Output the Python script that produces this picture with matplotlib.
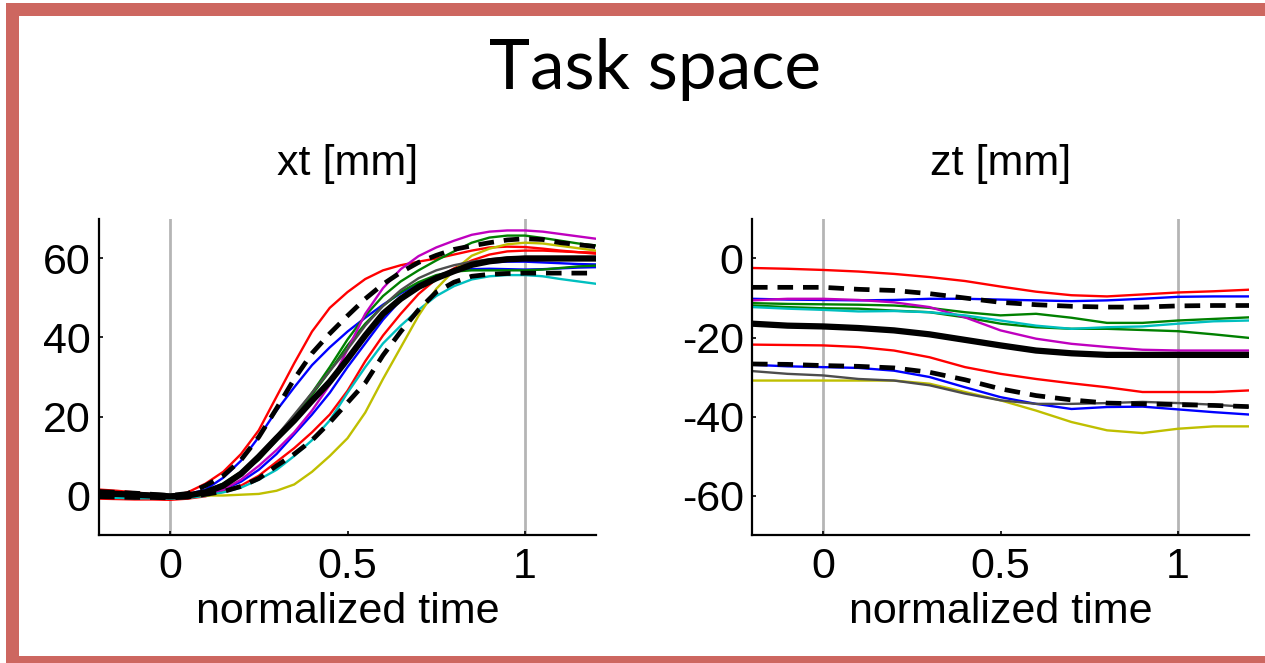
import numpy as np
import matplotlib.pyplot as plt
from matplotlib.patches import Rectangle

plt.rcParams['font.family'] = ['Liberation Sans', 'DejaVu Sans']
plt.rcParams['axes.unicode_minus'] = False

# normalized time samples
t_x = [-0.2, -0.15, -0.1, -0.05, 0.0, 0.05, 0.1, 0.15, 0.2, 0.25, 0.3, 0.35, 0.4, 0.45,
       0.5, 0.55, 0.6, 0.65, 0.7, 0.75, 0.8, 0.85, 0.9, 0.95, 1.0, 1.05, 1.1, 1.15, 1.2]
t_z = [-0.2, -0.1, 0.0, 0.1, 0.2, 0.3, 0.4, 0.5, 0.6, 0.7, 0.8, 0.9, 1.0, 1.1, 1.2]

# xt [mm] trials
xt_red1 = [1.5, 1.2, 0.8, 0.3, -0.2, 0.8, 3.0, 6.0, 10.5, 16.5, 25, 33.5, 41.5, 47.5, 51.5, 54.8, 57, 58.3, 59.2, 60, 61, 62, 62.8, 63, 62.9, 62.5, 62, 61.6, 61.2]
xt_red2 = [-0.8, -0.9, -1.0, -1.0, -1.1, -0.8, -0.2, 1, 2.5, 5, 8.5, 12, 16, 20.5, 26.5, 34, 40.5, 46, 51, 54.8, 57.5, 59.5, 61, 61.8, 62, 62, 61.8, 61.6, 61.5]
xt_blue1 = [0.6, 0.5, 0.3, 0.1, -0.1, 0.3, 1.5, 4.5, 8.8, 14.8, 21.5, 27.4, 33, 37.5, 41.5, 45, 48.3, 51.2, 53.6, 55.5, 57, 58.2, 59, 59.2, 59.2, 59, 58.8, 58.6, 58.5]
xt_blue2 = [-0.2, -0.3, -0.4, -0.4, -0.5, -0.3, 0.3, 1.5, 3.5, 6.5, 10.5, 15.5, 20.5, 26, 32.5, 38.5, 44.5, 49.5, 53, 55.5, 56.8, 57.3, 57.4, 57.3, 57.2, 57.3, 57.5, 57.7, 57.8]
xt_green1 = [0.8, 0.6, 0.4, 0.1, -0.2, 0.2, 1.2, 3, 6, 9.5, 14.5, 20, 26, 32.5, 39.5, 45.5, 50.5, 54.2, 57, 59.5, 61.8, 64, 65.3, 65.8, 65.8, 65.2, 64.5, 63.8, 63.3]
xt_green2 = [0.3, 0.2, 0.0, -0.2, -0.3, 0.0, 1.0, 2.5, 5.5, 9, 14, 19.5, 25.5, 31.5, 38, 43.5, 48, 51.5, 54, 55.8, 56.7, 57, 57, 57, 57, 57.2, 57.6, 58, 58.2]
xt_magenta = [0.0, 0.0, -0.1, -0.2, -0.3, -0.1, 0.5, 1.5, 4, 7.5, 11.5, 16, 21.5, 28, 37, 46, 52.5, 57.3, 60.6, 62.8, 64.5, 66, 66.8, 67.1, 67.1, 66.8, 66.2, 65.6, 65]
xt_cyan = [-0.5, -0.6, -0.7, -0.7, -0.8, -0.6, -0.1, 0.8, 2, 4, 6.5, 10, 14, 19, 26, 32.5, 38.5, 43, 47, 50.5, 53, 54.7, 55.5, 55.8, 55.8, 55.5, 54.8, 54.2, 53.6]
xt_yellow = [0.2, 0.2, 0.1, 0.0, -0.1, 0.0, 0.0, 0.0, 0.2, 0.4, 1.2, 2.8, 6, 10, 14.5, 21, 29.5, 37.5, 45.5, 52.3, 57, 60.7, 62.5, 63.6, 64, 63.8, 63.2, 62.6, 62]
xt_gray = [0.2, 0.1, 0.0, -0.1, -0.2, 0.1, 1.0, 2.5, 5.5, 10, 15, 20.5, 26, 31.5, 37, 43, 48, 52, 55, 57, 58.3, 59.2, 59.8, 60.2, 60.4, 60.4, 60.4, 60.4, 60.4]
xt_mean = [0.5, 0.4, 0.2, 0.0, -0.2, 0.0, 0.8, 2.5, 5.5, 9.8, 14.5, 19, 24, 28.8, 34.5, 40.5, 46, 49.8, 52.8, 55, 56.8, 58.4, 59.3, 59.8, 60, 60, 60, 60, 60]
xt_sd_hi = [1.0, 0.8, 0.6, 0.3, 0.0, 0.5, 2.5, 5, 9, 14.8, 22, 29.5, 36, 41, 45.5, 49.8, 53.5, 56.5, 59, 60.8, 62.3, 63.2, 64, 64.7, 65, 64.8, 64, 63.5, 63]
xt_sd_lo = [-0.3, -0.4, -0.5, -0.5, -0.6, -0.4, 0.3, 1, 2.3, 4.3, 7.5, 10.5, 14, 18.5, 23.5, 28.5, 35.5, 41.5, 47, 51.5, 54, 55.5, 56, 56.2, 56.3, 56.3, 56.3, 56.3, 56.3]

# zt [mm] trials
zt_red1 = [-2.4, -2.6, -2.9, -3.3, -3.9, -4.7, -5.7, -7.1, -8.4, -9.3, -9.6, -9.1, -8.6, -8.3, -7.9]
zt_red2 = [-21.8, -21.9, -22.0, -22.4, -23.3, -25.0, -27.5, -29.2, -30.5, -31.6, -32.6, -33.8, -33.8, -33.8, -33.4]
zt_blue1 = [-10.2, -10.4, -10.5, -10.6, -10.5, -10.2, -10.2, -10.4, -10.6, -10.8, -10.6, -10.2, -9.7, -9.6, -9.6]
zt_blue2 = [-26.9, -27.3, -27.5, -27.7, -28.4, -30.0, -32.6, -35.1, -36.8, -38.1, -37.6, -37.5, -38.2, -38.9, -39.5]
zt_green1 = [-11.3, -11.5, -11.6, -11.7, -11.9, -12.5, -13.6, -14.4, -14.0, -15.0, -16.3, -16.3, -15.7, -15.3, -14.9]
zt_green2 = [-11.9, -12.3, -12.6, -12.7, -13.2, -13.6, -14.9, -16.5, -17.4, -17.8, -17.8, -18.1, -18.4, -19.2, -20.1]
zt_magenta = [-10.6, -10.2, -10.2, -10.5, -11.1, -12.3, -14.9, -18.2, -20.3, -21.6, -22.4, -23.1, -23.3, -23.3, -23.3]
zt_cyan = [-12.3, -12.7, -13.0, -13.4, -13.3, -13.6, -14.4, -15.7, -17.0, -17.8, -17.4, -17.2, -16.5, -15.9, -15.7]
zt_yellow = [-30.9, -30.9, -30.9, -30.9, -30.9, -31.7, -33.8, -35.9, -38.5, -41.4, -43.5, -44.2, -43.1, -42.5, -42.5]
zt_gray = [-28.5, -29.2, -29.6, -30.5, -30.9, -32.1, -34.2, -35.9, -36.8, -36.8, -36.6, -36.3, -36.6, -37.0, -37.6]
zt_mean = [-16.5, -17.0, -17.2, -17.6, -18.2, -19.2, -20.6, -22.0, -23.3, -24.0, -24.4, -24.4, -24.4, -24.4, -24.4]
zt_sd_hi = [-7.3, -7.3, -7.3, -7.8, -8.1, -8.9, -10.0, -11.1, -11.7, -12.1, -12.3, -12.3, -12.0, -11.9, -11.9]
zt_sd_lo = [-26.7, -26.8, -27.1, -27.3, -27.7, -28.8, -30.7, -33.0, -34.7, -35.8, -36.6, -36.8, -37.0, -37.2, -37.5]

RED, BLUE, GREEN = (1, 0, 0), (0, 0, 1), (0, 0.5, 0)
CYAN, MAGENTA, YELLOW, GRAY = (0, 0.75, 0.75), (0.75, 0, 0.75), (0.75, 0.75, 0), (0.3, 0.3, 0.3)

W, H = 1265, 663
fig = plt.figure(figsize=(W / 100, H / 100), dpi=100)

# slide frame (left, top, bottom bands; right side is cut off)
FRAME = '#cd6760'
for x0, y0, x1, y1 in [(6, 3, 19, 663), (6, 3, 1265, 16), (6, 656, 1265, 663)]:
    fig.patches.append(Rectangle((x0 / W, 1 - y1 / H), (x1 - x0) / W, (y1 - y0) / H,
                                 transform=fig.transFigure, color=FRAME, lw=0))
# white strip at the far right (the slide continues past the crop)
fig.patches.append(Rectangle((1252 / W, 1 - 650 / H), 13 / W, 630 / H,
                             transform=fig.transFigure, color='white', lw=0, zorder=10))

fig.text(0.518, 0.895, 'Task space', ha='center', va='center', fontsize=50,
         family=['Lato', 'DejaVu Sans'])

panels = [
    (t_x, [xt_red1, xt_red2, xt_blue1, xt_blue2, xt_green1, xt_green2, xt_magenta, xt_cyan, xt_yellow, xt_gray],
     xt_mean, xt_sd_hi, xt_sd_lo, (-10, 70), [0, 20, 40, 60], 'xt [mm]', 99),
    (t_z, [zt_red1, zt_red2, zt_blue1, zt_blue2, zt_green1, zt_green2, zt_magenta, zt_cyan, zt_yellow, zt_gray],
     zt_mean, zt_sd_hi, zt_sd_lo, (-70, 10), [-60, -40, -20, 0], 'zt [mm]', 752),
]
colors = [RED, RED, BLUE, BLUE, GREEN, GREEN, MAGENTA, CYAN, YELLOW, GRAY]

for t, trials, mean, hi, lo, ylim, yticks, title, x0 in panels:
    ax = fig.add_axes([x0 / W, 1 - 535 / H, 497 / W, 316 / H])
    ax.axvline(0, color='#b5b5b5', lw=2, zorder=1)
    ax.axvline(1, color='#b5b5b5', lw=2, zorder=1)
    for y, c in zip(trials, colors):
        ax.plot(t, y, color=c, lw=1.7, zorder=2)
    ax.plot(t, mean, color='k', lw=4.5, zorder=3)
    for y in (hi, lo):
        ax.plot(t, y, color='k', lw=3.4, dashes=(3.3, 2.1), zorder=3)
    ax.set_xlim(-0.2, 1.2)
    ax.set_ylim(*ylim)
    ax.set_xticks([0, 0.5, 1])
    ax.set_xticklabels(['0', '0.5', '1'])
    ax.set_yticks(yticks)
    ax.set_yticklabels([str(v) for v in yticks])
    ax.tick_params(direction='in', length=3, width=1.2, labelsize=31, pad=6)
    ax.tick_params(axis='x', pad=9)
    for s in ('top', 'right'):
        ax.spines[s].set_visible(False)
    for s in ('left', 'bottom'):
        ax.spines[s].set_linewidth(1.6)
    ax.set_xlabel('normalized time', fontsize=31, labelpad=3)
    ax.set_title(title, fontsize=31, pad=32)

fig.savefig('out.png', dpi=100)
